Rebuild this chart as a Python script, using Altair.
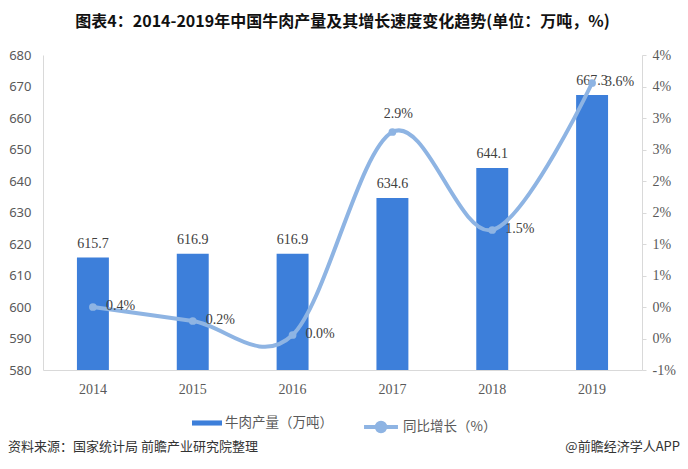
import altair as alt
import pandas as pd

# ---- data ----
years = ["2014", "2015", "2016", "2017", "2018", "2019"]
production = [615.7, 616.9, 616.9, 634.6, 644.1, 667.3]
growth = [0.4, 0.2, 0.0, 2.9, 1.5, 3.6]
growth_labels = ["0.4%", "0.2%", "0.0%", "2.9%", "1.5%", "3.6%"]
left_ticks = [580, 590, 600, 610, 620, 630, 640, 650, 660, 670, 680]
right_ticks = [-0.5, -0.05, 0.4, 0.85, 1.3, 1.75, 2.2, 2.65, 3.1, 3.55, 4.0]
right_tick_labels = ["-1%", "0%", "0%", "1%", "1%", "2%", "2%", "3%", "3%", "4%", "4%"]
bar_series = "牛肉产量（万吨）"
line_series = "同比增长（%）"
title_text = "图表4：2014-2019年中国牛肉产量及其增长速度变化趋势(单位：万吨，%)"
source_text = "资料来源：国家统计局 前瞻产业研究院整理"
brand_text = "@前瞻经济学人APP"

BAR = "#3D7FDA"
LINE = "#8EB4E3"
GRAY = "#595959"
AXIS = "#D9D9D9"
SERIF = "Liberation Serif"
SANS = "Noto Sans CJK SC"

df = pd.DataFrame({
    "year": years,
    "prod": production,
    "growth": growth,
    "glabel": growth_labels,
    "bs": [bar_series] * len(years),
    "ls": [line_series] * len(years),
})

W, H = 599, 315

x_enc = alt.X(
    "year:N",
    scale=alt.Scale(paddingInner=0.68, paddingOuter=0.34),
    axis=alt.Axis(title=None, labelAngle=0, ticks=False, domainColor=AXIS,
                  labelFont=SERIF, labelFontSize=14, labelColor=GRAY, labelPadding=12),
)

left_axis = alt.Axis(title=None, values=left_ticks, ticks=False, grid=False, domainColor=AXIS,
                     labelFont="Noto Sans", labelFontSize=13, labelColor=GRAY, labelPadding=12)
left_scale = alt.Scale(domain=[580, 680], nice=False, zero=False)

vals_js = "[" + ",".join(str(v) for v in right_ticks) + "]"
labs_js = "[" + ",".join("'" + s + "'" for s in right_tick_labels) + "]"
right_axis = alt.Axis(title=None, orient="right", values=right_ticks, grid=False,
                      labelExpr=f"{labs_js}[indexof({vals_js}, datum.value)]",
                      tickSize=4, tickColor=AXIS, domainColor=AXIS,
                      labelFont=SERIF, labelFontSize=14, labelColor=GRAY, labelPadding=6)
right_scale = alt.Scale(domain=[-0.5, 4.0], nice=False, zero=False)

y_left = alt.Y("prod:Q", scale=left_scale, axis=left_axis)
y_right = alt.Y("growth:Q", scale=right_scale, axis=right_axis)

base = alt.Chart(df)

bars = base.mark_bar(color=BAR).encode(
    x=x_enc,
    y=y_left,
    y2=alt.datum(580),
    fill=alt.Fill("bs:N", scale=alt.Scale(range=[BAR]),
                  legend=alt.Legend(title=None, orient="none", legendX=149, legendY=353,
                                    symbolType="M-1,-0.17H1V0.17H-1Z", symbolSize=900,
                                    symbolStrokeWidth=0,
                                    labelFont=SANS, labelFontSize=13.5, labelColor=GRAY,
                                    labelOffset=3)),
)

bar_labels = base.mark_text(baseline="middle", dy=-14, font=SERIF, fontSize=14, color="#404040").encode(
    x=x_enc, y=y_left, text=alt.Text("prod:Q", format=".1f")
)

line = base.mark_line(interpolate="cardinal", strokeWidth=4).encode(
    x=x_enc,
    y=y_right,
    stroke=alt.Stroke("ls:N", scale=alt.Scale(range=[LINE]),
                      legend=alt.Legend(title=None, orient="none", legendX=319, legendY=353,
                                        symbolType="M-1,0H1M0.25,0A0.25,0.25,0,1,1,-0.25,0A0.25,0.25,0,1,1,0.25,0",
                                        symbolSize=1150, symbolStrokeWidth=4,
                                        symbolFillColor=LINE,
                                        labelFont=SANS, labelFontSize=13.5, labelColor=GRAY,
                                        labelOffset=3)),
)

points = base.mark_circle(size=60, color=LINE, opacity=1).encode(x=x_enc, y=y_right)

pct_right = base.transform_filter(alt.datum.year != "2017").mark_text(
    align="left", baseline="middle", dx=13, dy=-1, font=SERIF, fontSize=14, color="#404040"
).encode(x=x_enc, y=y_right, text="glabel:N")

pct_top = base.transform_filter(alt.datum.year == "2017").mark_text(
    align="center", baseline="middle", dx=6, dy=-18, font=SERIF, fontSize=14, color="#404040"
).encode(x=x_enc, y=y_right, text="glabel:N")

foot_df = pd.DataFrame({"t": [source_text]})
brand_df = pd.DataFrame({"t": [brand_text]})
footer = alt.Chart(foot_df).mark_text(align="left", baseline="middle", font=SANS, fontSize=13, color="#333333").encode(
    x=alt.value(-35), y=alt.value(392), text="t:N")
brand = alt.Chart(brand_df).mark_text(align="right", baseline="middle", font=SANS, fontSize=13, color="#333333").encode(
    x=alt.value(637), y=alt.value(392), text="t:N")

left = alt.layer(bars, bar_labels)
right = alt.layer(line, points, pct_right, pct_top)

chart = alt.layer(left, right, footer, brand).resolve_scale(y="independent").properties(
    width=W, height=H,
    title=alt.TitleParams(title_text, anchor="middle", frame="group", offset=18,
                          font=SANS, fontSize=16, fontWeight="bold", color="#111111"),
    autosize=alt.AutoSizeParams(type="none"),
    padding={"left": 35, "top": 47, "right": 38, "bottom": 91},
).configure(background="white").configure_view(stroke=None)

chart.save("out.html", embed_options={"renderer": "svg", "actions": False})
